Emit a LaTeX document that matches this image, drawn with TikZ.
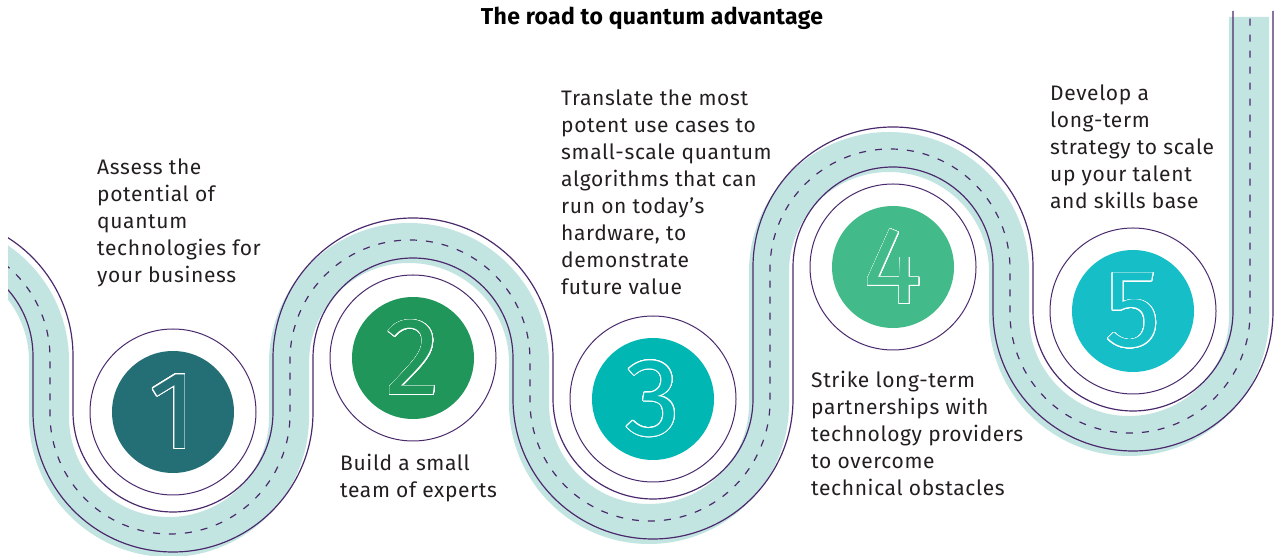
\documentclass[tikz,border=0pt]{standalone}
\usepackage{fontspec}
\setmainfont{Fira Sans}
\usepackage{contour}
\contourlength{0.75pt}
\contournumber{32}
\definecolor{roadteal}{HTML}{C3E5E2}
\definecolor{roadpurple}{HTML}{4A2A6C}
\definecolor{txt}{HTML}{231F20}
\definecolor{cone}{HTML}{246E76}
\definecolor{ctwo}{HTML}{21965A}
\definecolor{cthree}{HTML}{00B7B3}
\definecolor{cfour}{HTML}{42BA89}
\definecolor{cfive}{HTML}{16BEC7}
\tikzset{
  stepdisc/.style={circle, minimum size=122pt, inner sep=0pt, text=#1, fill=#1,
    font=\fontsize{110}{110}\selectfont},
  stepring/.style={circle, draw=roadpurple, line width=1pt, minimum size=166pt, inner sep=0pt},
  steptext/.style={anchor=base west, align=left, inner sep=0pt, text=txt,
    font=\fontsize{21}{27}\selectfont\addfontfeature{LetterSpace=3}},
  edgeline/.style={draw=roadpurple, line width=1.2pt},
}
\begin{document}
\begin{tikzpicture}[x=1pt,y=1pt]
\useasboundingbox (0,0) rectangle (1274,556);
\begin{scope}
\clip (8,0) rectangle (1274,556);
% teal band (shadow offset)
\begin{scope}[shift={(-4,-5)}]
\draw[roadteal, line width=40pt] (-67,320) arc[start angle=90,end angle=0,radius=120]
 -- (53,144) arc[start angle=180,end angle=360,radius=120]
 -- (293,198) arc[start angle=180,end angle=0,radius=120]
 -- (533,157) arc[start angle=180,end angle=360,radius=120]
 -- (773,289) arc[start angle=180,end angle=0,radius=120]
 -- (1013,245) arc[start angle=180,end angle=360,radius=120]
 -- (1253,544);
\end{scope}
% dashed centre line
\begin{scope}[shift={(-3,-2)}]
\draw[roadpurple, line width=1.2pt, dash pattern=on 7pt off 9pt] (-67,320) arc[start angle=90,end angle=0,radius=120]
 -- (53,144) arc[start angle=180,end angle=360,radius=120]
 -- (293,198) arc[start angle=180,end angle=0,radius=120]
 -- (533,157) arc[start angle=180,end angle=360,radius=120]
 -- (773,289) arc[start angle=180,end angle=0,radius=120]
 -- (1013,245) arc[start angle=180,end angle=360,radius=120]
 -- (1253,544);
\end{scope}
% edge lines
\draw[edgeline] (-67,340) arc[start angle=90,end angle=0,radius=140]
 -- (73,144) arc[start angle=180,end angle=360,radius=100]
 -- (273,198) arc[start angle=180,end angle=0,radius=140]
 -- (553,157) arc[start angle=180,end angle=360,radius=100]
 -- (753,289) arc[start angle=180,end angle=0,radius=140]
 -- (1033,245) arc[start angle=180,end angle=360,radius=100]
 -- (1233,545);
\draw[edgeline] (-67,300) arc[start angle=90,end angle=0,radius=100]
 -- (33,144) arc[start angle=180,end angle=360,radius=140]
 -- (313,198) arc[start angle=180,end angle=0,radius=100]
 -- (513,157) arc[start angle=180,end angle=360,radius=140]
 -- (793,289) arc[start angle=180,end angle=0,radius=100]
 -- (993,245) arc[start angle=180,end angle=360,radius=140]
 -- (1273,545);
\end{scope}
% steps
\node[stepring] (r1) at (173,144) {};
\node[stepring] (r2) at (413,198) {};
\node[stepring] (r3) at (653,157) {};
\node[stepring] (r4) at (893,289) {};
\node[stepring] (r5) at (1133,245) {};
\node[stepdisc=cone] (s1) at (173,144) {\contour{white}{1}};
\node[stepdisc=ctwo] (s2) at (413,198) {\contour{white}{2}};
\node[stepdisc=cthree] (s3) at (653,157) {\contour{white}{3}};
\node[stepdisc=cfour] (s4) at (893,289) {\contour{white}{4}};
\node[stepdisc=cfive] (s5) at (1133,245) {\contour{white}{5}};
% texts (base anchor = baseline of the last line)
\node[anchor=base, inner sep=0pt, text=black, font=\fontsize{23}{27}\selectfont\bfseries\addfontfeature{LetterSpace=1.5}] (title) at (652,531) {The road to quantum advantage};
\node[steptext] (t1) at (97,273) {Assess the\\potential of\\quantum\\technologies for\\your business};
\node[steptext] (t2) at (340,58) {Build a small\\team of experts};
\node[steptext] (t3) at (561,261) {Translate the most\\potent use cases to\\small-scale quantum\\algorithms that can\\run on today’s\\hardware, to\\demonstrate\\future value};
\node[steptext] (t4) at (811,60) {Strike long-term\\partnerships with\\technology providers\\to overcome\\technical obstacles};
\node[steptext] (t5) at (1050,347) {Develop a\\long-term\\strategy to scale\\up your talent\\and skills base};
\end{tikzpicture}
\end{document}
